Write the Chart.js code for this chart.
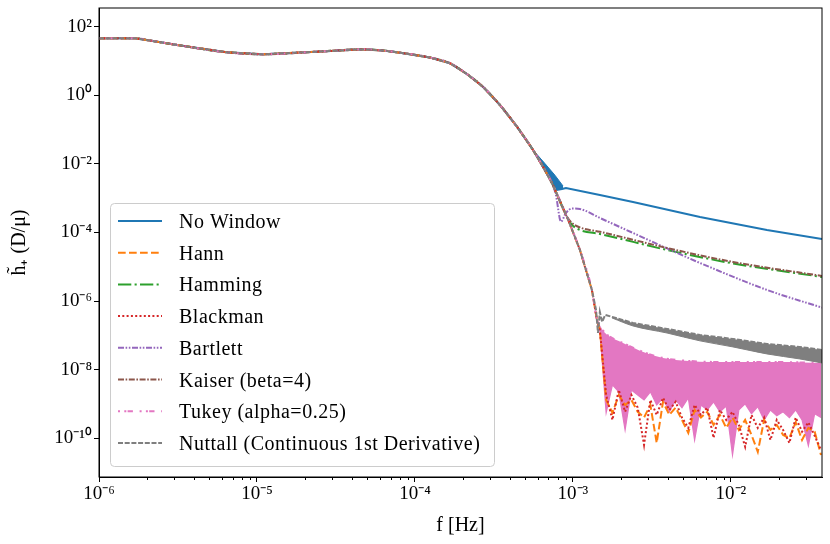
<!DOCTYPE html>
<html>
<head>
<meta charset="utf-8">
<script src="https://cdn.jsdelivr.net/npm/chart.js@4.4.1/dist/chart.umd.min.js"></script>
<style>
html, body { margin: 0; padding: 0; background: #fff; }
#wrap { width: 830px; height: 544px; }
</style>
</head>
<body>
<div id="wrap"><canvas id="fdChart"></canvas></div>
<script>
// low-frequency part, identical for every window
var fCommon = [1e-6, 1.69e-6, 2.1e-6, 3.12e-6, 6.46e-6, 1.09e-5, 2.4e-5, 4.69e-5, 6.27e-5, 8.04e-5,
               1.245e-4, 1.67e-4, 2.13e-4, 2.69e-4, 3.45e-4, 4.42e-4, 5.59e-4, 6.46e-4, 7.36e-4,
               9.16e-4, 1.107e-3, 1.318e-3, 1.418e-3];
var hCommon = [45.9, 45.9, 39.6, 29.3, 17.9, 15.7, 18.7, 21.9, 20.2, 17.5,
               12.6, 8.57, 4.18, 1.78, 0.521, 0.1216, 0.0254, 0.00828, 0.00277,
               2.89e-4, 3.09e-5, 2.11e-6, 2.81e-7];

// No Window (lower edge of its wedge, then the flat tail) and the wedge's upper edge
var fBlue = [7.92e-4, 8.52e-4, 9.03e-4, 1.48e-3, 2.40e-3, 6.37e-3, 1.69e-2, 3.77e-2];
var hNoWindow = [1.73e-3, 1.85e-3, 1.98e-3, 1.24e-3, 7.74e-4, 2.83e-4, 1.18e-4, 6.46e-5];
var fBlueUp = [5.59e-4, 6.65e-4, 7.69e-4, 8.65e-4];
var hNoWindowUp = [2.54e-2, 1.02e-2, 4.66e-3, 2.27e-3];

// Bartlett
var fPurple = [7.80e-4, 8.40e-4, 9.03e-4, 9.87e-4, 1.107e-3, 1.48e-3, 2.40e-3, 3.94e-3, 6.37e-3, 1.69e-2, 3.77e-2];
var hBartlett = [1.24e-3, 2.07e-4, 3.71e-4, 5.01e-4, 4.84e-4, 2.65e-4, 9.66e-5, 3.42e-5, 1.29e-5, 2.11e-6, 6.43e-7];

// Hamming and Kaiser
var fKG = [9.87e-4, 1.107e-3, 1.48e-3, 3.94e-3, 1.03e-2, 3.77e-2];
var hHamming = [1.66e-4, 1.18e-4, 9.04e-5, 3.09e-5, 1.25e-5, 5.05e-6];
var hKaiser = [1.89e-4, 1.40e-4, 1.05e-4, 3.53e-5, 1.38e-5, 5.39e-6];

// Nuttall (upper edge and lower edge of its band)
var fGrey = [1.40e-3, 1.44e-3, 1.48e-3, 1.53e-3, 1.60e-3, 1.77e-3, 2.40e-3, 3.94e-3, 6.37e-3, 1.03e-2, 1.69e-2, 2.73e-2, 3.77e-2];
var hNuttall = [5.5e-7, 1.17e-7, 4.8e-7, 2.46e-7, 3.94e-7, 3.44e-7, 2.3e-7, 1.54e-7, 1.03e-7, 7.85e-8, 5.6e-8, 4.6e-8, 3.75e-8];
var fGreyLow = [1.77e-3, 2.40e-3, 3.94e-3, 6.37e-3, 1.03e-2, 1.69e-2, 2.73e-2, 3.77e-2];
var hNuttallLow = [3.2e-7, 1.88e-7, 1.17e-7, 6.9e-8, 4.6e-8, 2.87e-8, 2.05e-8, 1.57e-8];

// Tukey upper edge
var fPinkTop = [1.479e-3, 1.54e-3, 1.622e-3, 1.778e-3, 2.138e-3, 2.818e-3, 3.715e-3, 5.37e-3, 1.023e-2, 2.138e-2, 3.715e-2];
var hTukeyTop = [2.01e-7, 1.44e-7, 1.1e-7, 8.3e-8, 5.6e-8, 3.2e-8, 2.2e-8, 1.8e-8, 1.66e-8, 1.66e-8, 1.55e-8];

// noisy high-frequency tails (Hann, Blackman, Tukey lower edge)
var fTail = [1.479e-3, 1.622e-3, 1.778e-3, 1.950e-3, 2.138e-3, 2.344e-3, 2.570e-3, 2.818e-3, 3.090e-3, 3.388e-3,
             3.715e-3, 4.074e-3, 4.467e-3, 4.898e-3, 5.370e-3, 5.888e-3, 6.457e-3, 7.079e-3, 7.762e-3, 8.511e-3,
             9.333e-3, 1.023e-2, 1.122e-2, 1.230e-2, 1.349e-2, 1.479e-2, 1.622e-2, 1.778e-2, 1.950e-2, 2.138e-2,
             2.344e-2, 2.570e-2, 2.818e-2, 3.090e-2, 3.388e-2, 3.715e-2];
var hHann = [1.44e-7, 1.31e-9, 5.5e-10, 1.83e-9, 9.35e-10, 1.31e-9, 5.9e-10, 4.0e-10, 9.35e-10, 7.3e-11,
             1.15e-9, 4.78e-10, 7.8e-10, 3.42e-10, 1.43e-10, 6.68e-10, 4.0e-10, 5.9e-10, 2.44e-10, 4.78e-10,
             2.0e-10, 4.0e-10, 1.75e-10, 3.42e-10, 1.25e-10, 4.0e-11, 3.42e-10, 1.75e-10, 2.44e-10, 1.25e-10,
             1.02e-10, 2.9e-10, 8.9e-11, 2.0e-10, 1.55e-10, 3.26e-11];
var hBlackman = [1.44e-7, 1.83e-9, 3.42e-10, 2.56e-9, 5.9e-10, 1.83e-9, 7.8e-10, 6.4e-11, 1.31e-9, 4.78e-10,
                 1.5e-9, 6.68e-10, 1.15e-9, 4.0e-10, 2.0e-10, 9.35e-10, 4.78e-10, 7.8e-10, 1.02e-10, 6.68e-10,
                 3.42e-10, 5.9e-10, 2.44e-10, 5.6e-11, 4.78e-10, 2.0e-10, 4.0e-10, 8.9e-11, 3.42e-10, 1.75e-10,
                 7.3e-11, 4.0e-10, 1.55e-10, 2.9e-10, 1.18e-10, 4.56e-11];
var hTukeyLow = [1.44e-7, 5.5e-10, 3.58e-9, 2.25e-9, 1.75e-10, 2.56e-9, 1.83e-9, 1.31e-9, 2.25e-9, 9.35e-10,
                 1.5e-9, 5.9e-10, 1.31e-9, 7.8e-10, 1.5e-9, 8.9e-11, 9.35e-10, 6.68e-10, 1.15e-9, 5.9e-10,
                 8.7e-10, 3.26e-11, 6.68e-10, 1.0e-9, 5.2e-10, 8.3e-10, 3.42e-10, 6.68e-10, 4.5e-10, 5.9e-10,
                 4.0e-10, 6.68e-10, 3.42e-10, 6.0e-11, 5.2e-10, 4.0e-10];

var xMajor = [1e-6, 1e-5, 1e-4, 1e-3, 1e-2];
var yMajor = [1e2, 1e0, 1e-2, 1e-4, 1e-6, 1e-8, 1e-10];

var names = ["No Window", "Hann", "Hamming", "Blackman", "Bartlett", "Kaiser (beta=4)",
             "Tukey (alpha=0.25)", "Nuttall (Continuous 1st Derivative)"];

var serif = "'Liberation Serif', 'Times New Roman', serif";

function pts(fs, hs) {
    return fs.map(function(f, i){ return {x: f, y: hs[i]}; });
}
function commonUpTo(fmax) {
    var out = [];
    for (var i = 0; i < fCommon.length; i++) {
        if (fCommon[i] <= fmax) out.push({x: fCommon[i], y: hCommon[i]});
    }
    return out;
}
function sup(v) {
    var map = {"-": "\u207B", "0": "\u2070", "1": "\u00B9", "2": "\u00B2", "3": "\u00B3", "4": "\u2074",
               "5": "\u2075", "6": "\u2076", "7": "\u2077", "8": "\u2078", "9": "\u2079"};
    var e = String(Math.round(Math.log10(v)));
    var s = "10";
    for (var i = 0; i < e.length; i++) s += map[e[i]];
    return s;
}

function line(label, data, color, dash, order, smooth) {
    return {
        label: label, data: data, borderColor: color, backgroundColor: color,
        borderWidth: 2, borderDash: dash, pointRadius: 0, fill: false, order: order,
        tension: 0, cubicInterpolationMode: smooth ? "monotone" : "default"
    };
}

var datasets = [
    line(names[0], commonUpTo(7.36e-4).concat(pts(fBlue, hNoWindow)), "#1f77b4", [], 9, false),
    line(names[1], commonUpTo(1.418e-3).concat(pts(fTail, hHann)), "#ff7f0e", [7.7, 3.3], 4, false),
    line(names[2], commonUpTo(9.16e-4).concat(pts(fKG, hHamming)), "#2ca02c", [13.3, 3.3, 2.1, 3.3], 8, true),
    line(names[3], commonUpTo(1.418e-3).concat(pts(fTail, hBlackman)), "#d62728", [2, 2.3], 3, false),
    line(names[4], commonUpTo(7.36e-4).concat(pts(fPurple, hBartlett)), "#9467bd", [6, 1.6, 1.6, 1.6, 1.6, 1.6], 7, true),
    line(names[5], commonUpTo(9.16e-4).concat(pts(fKG, hKaiser)), "#8c564b", [6, 1.6, 1.6, 1.6], 6, true),
    line(names[6], commonUpTo(1.418e-3).concat(pts(fPinkTop, hTukeyTop)), "#e377c2", [2, 4.3, 2, 1.3, 5.3, 6.7], 2, true),
    line(names[7], commonUpTo(1.318e-3).concat(pts(fGrey, hNuttall)), "#7f7f7f", [5, 1.7], 1, false)
];
// band fills (not in the legend)
var pinkLow = line("", pts(fTail, hTukeyLow), "#e377c2", [], 5, false);
pinkLow.fill = 6; pinkLow.borderWidth = 1.2;
var greyLow = line("", pts(fGreyLow, hNuttallLow), "#7f7f7f", [], 1.5, true);
greyLow.fill = 7; greyLow.borderWidth = 1;
var blueUp = line("", pts(fBlueUp, hNoWindowUp), "#1f77b4", [], 9.5, false);
blueUp.fill = 0; blueUp.borderWidth = 1;
datasets.push(pinkLow, greyLow, blueUp);

var frameAndLegend = {
    id: "frameAndLegend",
    afterDraw: function(chart) {
        var ctx = chart.ctx, a = chart.chartArea, xs = chart.scales.x;
        ctx.save();
        // minor ticks on x
        ctx.strokeStyle = "#000";
        ctx.lineWidth = 1;
        for (var p = -6; p <= -2; p++) {
            for (var k = 2; k <= 9; k++) {
                var v = k * Math.pow(10, p);
                if (v > xs.max) break;
                var px = Math.round(xs.getPixelForValue(v)) + 0.5;
                ctx.beginPath(); ctx.moveTo(px, a.bottom); ctx.lineTo(px, a.bottom + 3); ctx.stroke();
            }
        }
        ctx.strokeRect(a.left, a.top, a.right - a.left, a.bottom - a.top);

        // legend box in lower left
        var bx = a.left + 11, bw = 384, bh = 263, by = a.bottom - 11 - bh;
        ctx.beginPath();
        ctx.roundRect(bx + 0.5, by + 0.5, bw, bh, 4);
        ctx.fillStyle = "rgba(255,255,255,0.8)";
        ctx.fill();
        ctx.strokeStyle = "#cccccc";
        ctx.lineWidth = 1;
        ctx.stroke();
        ctx.font = "20px " + serif;
        ctx.letterSpacing = "0.5px";
        ctx.textBaseline = "alphabetic";
        for (var i = 0; i < 8; i++) {
            var ds = chart.data.datasets[i];
            var ry = by + 18 + i * 31.7;
            ctx.setLineDash(ds.borderDash);
            ctx.strokeStyle = ds.borderColor;
            ctx.lineWidth = ds.borderWidth;
            ctx.beginPath(); ctx.moveTo(bx + 8, ry); ctx.lineTo(bx + 52, ry); ctx.stroke();
            ctx.setLineDash([]);
            ctx.fillStyle = "#000";
            ctx.fillText(ds.label, bx + 69, ry + 7);
        }
        ctx.restore();
    }
};

new Chart("fdChart", {
    type: "line",
    data: { datasets: datasets },
    options: {
        responsive: true,
        maintainAspectRatio: false,
        animation: false,
        layout: { padding: { left: 0, right: 8, top: 8, bottom: 0 } },
        plugins: { legend: { display: false }, tooltip: { enabled: false } },
        scales: {
            x: {
                type: "logarithmic",
                min: 1e-6, max: 3.77e-2,
                afterBuildTicks: function(s){ s.ticks = xMajor.map(function(v){ return {value: v}; }); },
                afterFit: function(s){ s.height = 67; s.paddingLeft = 0; s.paddingRight = 0; },
                ticks: { callback: function(v){ return sup(v); }, autoSkip: false, maxRotation: 0,
                         padding: 1, color: "#000", font: { family: serif, size: 19 } },
                grid: { drawOnChartArea: false, tickLength: 5, tickColor: "#000", tickWidth: 1 },
                border: { color: "#000", width: 1 },
                title: { display: true, text: "f [Hz]", color: "#000", font: { family: serif, size: 20 },
                         padding: { top: 0, bottom: 6 } }
            },
            y: {
                type: "logarithmic",
                min: 7.4e-12, max: 351,
                afterBuildTicks: function(s){ s.ticks = yMajor.map(function(v){ return {value: v}; }); },
                afterFit: function(s){ s.width = 99; s.paddingTop = 0; s.paddingBottom = 0; },
                ticks: { callback: function(v){ return sup(v); }, autoSkip: false,
                         padding: 2, color: "#000", font: { family: serif, size: 19 } },
                grid: { drawOnChartArea: false, tickLength: 5, tickColor: "#000", tickWidth: 1 },
                border: { color: "#000", width: 1 },
                title: { display: true, text: "h\u0303\u208A (D/\u03BC)", color: "#000", font: { family: serif, size: 20 },
                         padding: { top: 8, bottom: 0 } }
            }
        }
    },
    plugins: [frameAndLegend]
});
</script>
</body>
</html>
